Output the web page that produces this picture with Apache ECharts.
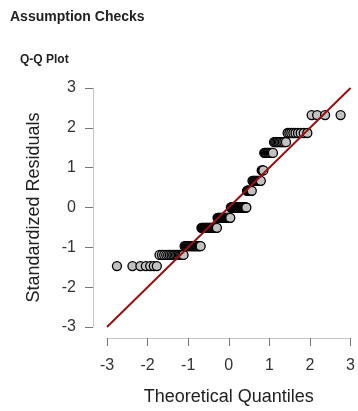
<!DOCTYPE html>
<html>
<head>
<meta charset="utf-8">
<script src="https://cdn.jsdelivr.net/npm/echarts@6/dist/echarts.min.js"></script>
<style>
  html, body { margin: 0; padding: 0; background: #fff; }
  #qq { width: 358px; height: 411px; }
</style>
</head>
<body>
<div id="qq"></div>
<script>
// standardized residual levels (y) and the theoretical quantiles (x) sitting on each level
const levelY = [-1.47, -1.19, -0.97, -0.51, -0.26, 0, 0.42, 0.67, 0.93, 1.37, 1.64, 1.87, 2.32]
const levelX = [
  [-2.755, -2.373, -2.177, -2.042, -1.935, -1.847, -1.772],
  [-1.705, -1.645, -1.591, -1.540, -1.493, -1.450, -1.409, -1.370, -1.334, -1.298, -1.265, -1.233, -1.202, -1.172, -1.143, -1.115],
  [-1.088, -1.062, -1.036, -1.011, -0.987, -0.963, -0.940, -0.918, -0.896, -0.874, -0.852, -0.831, -0.811, -0.790, -0.770, -0.751, -0.731, -0.712, -0.693],
  [-0.674, -0.656, -0.638, -0.619, -0.602, -0.584, -0.567, -0.549, -0.532, -0.515, -0.499, -0.482, -0.466, -0.449, -0.433, -0.417, -0.401, -0.385, -0.369, -0.354, -0.338, -0.323, -0.307, -0.292],
  [-0.277, -0.261, -0.246, -0.231, -0.216, -0.201, -0.186, -0.171, -0.156, -0.141, -0.126, -0.111, -0.096, -0.081, -0.066, -0.052, -0.037, -0.022, -0.007, 0.007, 0.022, 0.037],
  [0.052, 0.066, 0.081, 0.096, 0.111, 0.126, 0.141, 0.156, 0.171, 0.186, 0.201, 0.216, 0.231, 0.246, 0.261, 0.277, 0.292, 0.307, 0.323, 0.338, 0.354, 0.369, 0.385, 0.401, 0.417, 0.433],
  [0.449, 0.466, 0.482, 0.499, 0.515, 0.532, 0.549, 0.567],
  [0.584, 0.602, 0.619, 0.638, 0.656, 0.674, 0.693, 0.712, 0.731, 0.751, 0.770, 0.790],
  [0.811, 0.831, 0.852],
  [0.874, 0.896, 0.918, 0.940, 0.963, 0.987, 1.011, 1.036, 1.062, 1.088],
  [1.115, 1.143, 1.172, 1.202, 1.233, 1.265, 1.298, 1.334, 1.370, 1.409],
  [1.450, 1.493, 1.540, 1.591, 1.645, 1.705, 1.772, 1.847, 1.935],
  [2.042, 2.177, 2.373, 2.755]
]
const refLine = [[-3, -3], [3, 3]]
const axisTicks = [-3, -2, -1, 0, 1, 2, 3]

const points = []
levelX.forEach((xs, k) => {
  xs.forEach(x => points.push([x, levelY[k]]))
})

const font = 'Liberation Sans, Arial, sans-serif'
const axisCommon = {
  type: 'value',
  min: axisTicks[0],
  max: axisTicks[axisTicks.length - 1],
  interval: 1,
  nameLocation: 'middle',
  nameTextStyle: { fontSize: 18, color: '#222', fontFamily: font },
  axisLine: { show: true, onZero: false, lineStyle: { color: '#c8c8c8', width: 1 } },
  axisTick: { show: true, length: 8, lineStyle: { color: '#777' } },
  splitLine: { show: false },
  axisLabel: { fontSize: 16, color: '#333', fontFamily: font }
}

const myEchart = echarts.init(document.getElementById('qq'))
myEchart.setOption({
  animation: false,
  title: [
    { text: 'Assumption Checks', left: 10, top: 10, padding: 0,
      textStyle: { fontSize: 14, fontWeight: 'bold', color: '#222', fontFamily: font } },
    { text: 'Q-Q Plot', left: 20, top: 54, padding: 0,
      textStyle: { fontSize: 12, fontWeight: 'bold', color: '#222', fontFamily: font } }
  ],
  grid: { left: 107, right: 5, top: 88, bottom: 83, containLabel: false },
  xAxis: Object.assign({}, axisCommon, {
    name: 'Theoretical Quantiles', nameGap: 50, offset: 11,
    axisLabel: Object.assign({}, axisCommon.axisLabel, { margin: 20 })
  }),
  yAxis: Object.assign({}, axisCommon, {
    name: 'Standardized Residuals', nameGap: 50, offset: 14,
    axisLabel: Object.assign({}, axisCommon.axisLabel, { margin: 17 })
  }),
  series: [
    {
      type: 'scatter',
      data: points,
      symbol: 'circle',
      symbolSize: 9,
      itemStyle: { color: '#c2c2c2', borderColor: '#000', borderWidth: 1.3, opacity: 1 },
      z: 2
    },
    {
      type: 'line',
      data: refLine,
      symbol: 'none',
      lineStyle: { color: '#9a0f0f', width: 2 },
      z: 3
    }
  ]
})
</script>
</body>
</html>
